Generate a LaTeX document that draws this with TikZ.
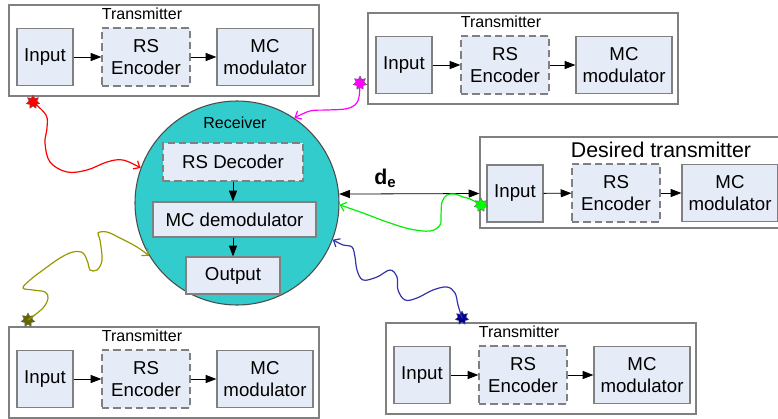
\documentclass[tikz,border=0pt]{standalone}
\usepackage{fontspec}
\setmainfont{Liberation Sans}
\usetikzlibrary{shapes.geometric,arrows.meta}

\definecolor{boxfill}{RGB}{230,236,247}
\definecolor{boxline}{RGB}{128,128,128}
\definecolor{rxfill}{RGB}{51,204,204}
\definecolor{olivestar}{RGB}{102,102,0}
\definecolor{olivewave}{RGB}{153,153,0}
\definecolor{navywave}{RGB}{51,51,170}
\definecolor{greenwave}{RGB}{0,240,0}
\definecolor{pinkwave}{RGB}{255,0,255}

\tikzset{
  blk/.style={draw=boxline, fill=boxfill, line width=0.9pt, align=center, inner sep=0pt,
    font=\fontsize{14}{16.5}\selectfont},
  dblk/.style={blk, dashed, dash pattern=on 5.5pt off 3pt},
  frame/.style={draw=boxline, fill=white, line width=0.9pt, inner sep=0pt},
  link/.style={-{Triangle[length=8pt,width=6pt]}, line width=0.6pt},
  burst/.style={star, star points=7, star point ratio=1.7, minimum size=10.5pt, inner sep=0pt,
    draw=black!60, line width=0.3pt},
  wave/.style={-{Straight Barb[length=4pt,width=7pt]}, line width=0.9pt},
}

\begin{document}
\begin{tikzpicture}[x=0.75pt,y=0.75pt,yscale=-1,xscale=1]
    \useasboundingbox (0,0) rectangle (778,418);
    \fill[white] (0,0) rectangle (778,418);

    % transmitters
    \foreach \n/\dx/\dy in {a/0/0, b/359/8, d/0/322, e/377/318}{
      \begin{scope}[shift={(\dx,\dy)}]
        \node[frame, minimum width=232.5pt, minimum height=68.25pt] (\n-box) at (164,50.5) {};
        \node[font=\fontsize{12}{14}\selectfont] (\n-lbl) at (142,14) {Transmitter};
        \node[blk, minimum width=42pt, minimum height=42.75pt] (\n-in) at (45,57) {Input};
        \node[dblk, minimum width=66pt, minimum height=43.5pt] (\n-rs) at (146,57) {RS\\Encoder};
        \node[blk, minimum width=72pt, minimum height=42.75pt] (\n-mc) at (265,57) {MC\\modulator};
        \draw[link] (\n-in) -- (\n-rs);
        \draw[link] (\n-rs) -- (\n-mc);
      \end{scope}
    }

    % desired transmitter
    \node[frame, minimum width=232.5pt, minimum height=68.25pt] (c-box) at (635,182.5) {};
    \node[font=\fontsize{16}{18}\selectfont] (c-lbl) at (661,150) {Desired transmitter};
    \node[blk, minimum width=42pt, minimum height=42.75pt] (c-in) at (515,193.5) {Input};
    \node[dblk, minimum width=66pt, minimum height=43.5pt] (c-rs) at (616,193) {RS\\Encoder};
    \node[blk, minimum width=72pt, minimum height=42.75pt] (c-mc) at (730,193) {MC\\modulator};
    \draw[link] (c-in) -- (c-rs);
    \draw[link] (c-rs) -- (c-mc);

    % receiver
    \node[circle, draw=black!70, fill=rxfill, line width=0.8pt, minimum size=153pt, inner sep=0pt] (rx) at (237,203) {};
    \node[font=\fontsize{12}{14}\selectfont] (rx-lbl) at (235,123) {Receiver};
    \node[dblk, minimum width=105pt, minimum height=28.5pt] (dec) at (233,162) {RS Decoder};
    \node[blk, minimum width=122.25pt, minimum height=26.25pt] (dem) at (234.5,219.5) {MC demodulator};
    \node[blk, minimum width=70.5pt, minimum height=27.75pt] (out) at (233,275.5) {Output};
    \draw[link] (dec.south) -- (dec.south |- dem.north);
    \draw[link] (dec.south |- dem.south) -- (dec.south |- out.north);

    % distance
    \draw[{Triangle[length=8pt,width=6pt]}-{Triangle[length=8pt,width=6pt]}, line width=0.6pt]
      (rx.5) -- node[pos=0.33, above=1pt, font=\fontsize{16}{18}\selectfont\bfseries] (de) {d\textsubscript{e}} (c-box.west |- c-in);

    % interferers
    \node[burst, fill=red] (s-a) at (33,102) {};
    \node[burst, fill=pinkwave] (s-b) at (360,83) {};
    \node[burst, fill=green] (s-c) at (481,205) {};
    \node[burst, fill=olivestar] (s-d) at (28,320) {};
    \node[burst, fill=blue!60!black] (s-e) at (462,318) {};

    \draw[wave, red] plot[smooth, tension=0.6] coordinates {(s-a) (46,115) (47,128) (45,143) (50,162) (67,172) (87,170) (107,162) (123,160) (rx.160)};
    \draw[wave, pinkwave] plot[smooth, tension=0.6] coordinates {(s-b) (359,97) (355,105) (345,109) (327,110) (310,111) (rx.56)};
    \draw[wave, greenwave] plot[smooth, tension=0.6] coordinates {(s-c) (470,199) (463,197) (455,194) (447,195) (442,202) (441,215) (440,225) (430,231) (410,229) (387,222) (363,213) (rx.-1)};
    \draw[wave, olivewave] plot[smooth, tension=0.6] coordinates {(s-d) (43,308) (48,298) (45,292) (33,290) (23,288) (30,280) (43,270) (60,258) (73,252) (83,253) (88,263) (90,270) (97,270) (102,260) (100,240) (98,233) (107,232) (120,238) (137,247) (rx.211)};
    \draw[wave, navywave] plot[smooth, tension=0.6] coordinates {(s-e) (458,305) (455,293) (447,287) (433,290) (417,298) (405,300) (398,290) (397,277) (390,270) (377,277) (363,280) (357,270) (355,257) (352,247) (343,245) (rx.-21)};

\end{tikzpicture}
\end{document}
